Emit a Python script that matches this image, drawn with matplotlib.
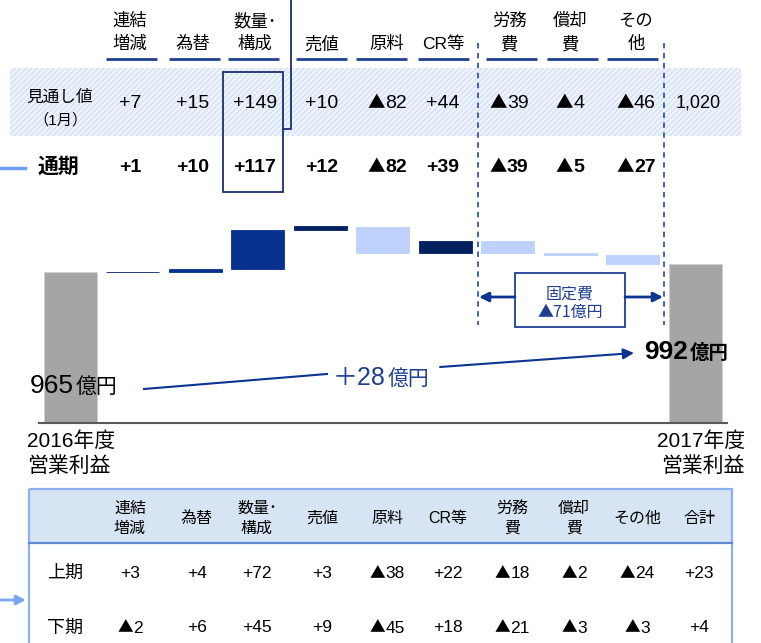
import matplotlib.pyplot as plt
from matplotlib.patches import Rectangle

plt.rcParams['font.family'] = ['Liberation Sans', 'Noto Sans CJK JP', 'DejaVu Sans']

# waterfall data (億円)
start_val = 965
end_val = 992
change_label = '＋28'
deltas = [1, 10, 117, 12, -82, 39, -39, -5, -27]
bar_colors = ['#002060', '#06318f', '#06318f', '#002060', '#bdd1fa',
              '#002060', '#bdd1fa', '#bdd1fa', '#bdd1fa']
axis_floor = 505

# upper table
top_headers = ['連結\n増減', '為替', '数量･\n構成', '売値', '原料', 'CR等', '労務\n費', '償却\n費', 'その\n他']
forecast = ['+7', '+15', '+149', '+10', '▲82', '+44', '▲39', '▲4', '▲46']
forecast_total = '1,020'
full_year = ['+1', '+10', '+117', '+12', '▲82', '+39', '▲39', '▲5', '▲27']

# lower table
low_headers = ['連結\n増減', '為替', '数量･\n構成', '売値', '原料', 'CR等', '労務\n費', '償却\n費', 'その他', '合計']
first_half = ['+3', '+4', '+72', '+3', '▲38', '+22', '▲18', '▲2', '▲24', '+23']
second_half = ['▲2', '+6', '+45', '+9', '▲45', '+18', '▲21', '▲3', '▲3', '+4']

navy = '#1f3f8f'

fig = plt.figure(figsize=(7.61, 6.43), dpi=100)
renderer = fig.canvas.get_renderer()

# waterfall axes
wax = fig.add_axes([0, (643 - 423.3) / 643, 1, 223.3 / 643])
wax.set_xlim(-70 / 62.5, (761 - 70) / 62.5)
wax.set_ylim(axis_floor, axis_floor + 223.3 / 0.328)
wax.axis('off')
w = 53 / 62.5
wax.bar([0, 10], [start_val - axis_floor, end_val - axis_floor], bottom=axis_floor,
        width=w, color='#a5a5a5', edgecolor='#d0d0d0', linewidth=0.6)
level = start_val
for i, d in enumerate(deltas):
    wax.bar(i + 1, d, bottom=level, width=w, color=bar_colors[i],
            edgecolor=bar_colors[i], linewidth=0.6)
    level += d

# overlay axes in pixel coords
ax = fig.add_axes([0, 0, 1, 1])
ax.set_xlim(0, 761)
ax.set_ylim(643, 0)
ax.axis('off')


def value(x, y, s, size, bold=False, color='black'):
    weight = 'bold' if bold else 'normal'
    if not s.startswith('▲'):
        ax.text(x, y, s, ha='center', va='center', fontsize=size, fontweight=weight, color=color)
        return
    em = size * 100 / 72
    base = y + 0.27 * em
    t1 = ax.text(0, base, '▲', ha='left', va='baseline', fontsize=size * 0.9, color=color,
                 family=['Noto Sans CJK JP'])
    t2 = ax.text(0, base, s[1:], ha='left', va='baseline', fontsize=size, fontweight=weight,
                 color=color)
    w1 = t1.get_window_extent(renderer).width
    w2 = t2.get_window_extent(renderer).width
    left = x - (w1 + w2) / 2
    t1.set_x(left)
    t2.set_x(left + w1)


# forecast band
ax.add_patch(Rectangle((10, 68), 731, 68, facecolor='#eef3fc', edgecolor='#d6e1f6',
                       hatch='//////', lw=0, zorder=0))

top_x = [130, 193, 255, 322, 387, 443, 509, 570, 636]
for x, h in zip(top_x, top_headers):
    lines = h.split('\n')
    if len(lines) == 2:
        ax.text(x, 21, lines[0], ha='center', va='center', fontsize=12.5)
        ax.text(x, 44, lines[1], ha='center', va='center', fontsize=12.5)
    else:
        ax.text(x, 44, lines[0], ha='center', va='center', fontsize=12.5)
ul = [(106, 157), (169, 220), (228, 279), (296, 347), (356, 407),
      (418, 469), (486, 537), (547, 598), (607, 658)]
for a, b in ul:
    ax.plot([a, b], [59, 59], color=navy, lw=2, solid_capstyle='butt')

ax.text(60, 97, '見通し値', ha='center', va='center', fontsize=12)
ax.text(60, 120, '（1月）', ha='center', va='center', fontsize=11)
ax.text(58, 167, '通期', ha='center', va='center', fontsize=15, fontweight='bold')
ax.plot([0, 25], [168, 168], color='#6f9ff5', lw=2.5)

for x, v in zip(top_x, forecast):
    value(x, 103, v, 14)
ax.text(698, 103, forecast_total, ha='center', va='center', fontsize=13)
for x, v in zip(top_x, full_year):
    value(x, 167, v, 14, bold=True)

# highlight box on volume column
ax.add_patch(Rectangle((223, 72), 60, 120, facecolor='none', edgecolor='#1c2f6e', lw=1.3))
ax.plot([283, 291, 291], [129, 129, 0], color='#1c2f6e', lw=1.3)

# fixed cost brackets
for x in [478, 664]:
    ax.plot([x, x], [43, 325], color='#3056ad', lw=1.3, ls=(0, (3, 2.5)))
ax.add_patch(Rectangle((515, 273), 110, 54, facecolor='white', edgecolor=navy, lw=1.3, zorder=3))
ax.text(570, 294, '固定費', ha='center', va='center', fontsize=11.5, color=navy, zorder=4)
ax.text(570, 312, '▲71億円', ha='center', va='center', fontsize=11.5, color=navy, zorder=4,
        family=['Noto Sans CJK JP'])
arrow = dict(arrowstyle='-|>', color='#0b3590', lw=2, mutation_scale=14, shrinkA=0, shrinkB=0)
ax.annotate('', xy=(479, 297), xytext=(515, 297), arrowprops=arrow)
ax.annotate('', xy=(663, 297), xytext=(625, 297), arrowprops=arrow)

# baseline
ax.plot([39, 727], [423.3, 423.3], color='#595959', lw=1.5)

# totals
ax.text(30, 393, str(start_val), ha='left', va='baseline', fontsize=19)
ax.text(76, 393, '億円', ha='left', va='baseline', fontsize=15)
ax.text(644, 359, str(end_val), ha='left', va='baseline', fontsize=19, fontweight='bold')
ax.text(690, 359, '億円', ha='left', va='baseline', fontsize=14, fontweight='bold')
ax.text(333, 385, change_label, ha='left', va='baseline', fontsize=18, color=navy)
ax.text(388, 385, '億円', ha='left', va='baseline', fontsize=15, color=navy)
ax.plot([144, 327], [389, 374], color='#0b3590', lw=1.5)
ax.annotate('', xy=(634, 353), xytext=(440, 367),
            arrowprops=dict(arrowstyle='-|>', color='#0b3590', lw=1.5, mutation_scale=16,
                            shrinkA=0, shrinkB=0))

ax.text(27, 441, '2016年度', ha='left', va='center', fontsize=15)
ax.text(27, 466, '営業利益', ha='left', va='center', fontsize=15)
ax.text(745, 441, '2017年度', ha='right', va='center', fontsize=15)
ax.text(745, 466, '営業利益', ha='right', va='center', fontsize=15)

# lower table
ax.add_patch(Rectangle((29, 489), 703, 54, facecolor='#d6e4f3', edgecolor='none'))
ax.add_patch(Rectangle((29, 489), 703, 200, facecolor='none', edgecolor='#8db0ef', lw=1.6))
ax.plot([29, 732], [543, 543], color='#5a8ad0', lw=1.6)
low_x = [130, 197, 257, 322, 387, 448, 512, 574, 637, 699]
for x, h in zip(low_x, low_headers):
    lines = h.split('\n')
    if len(lines) == 2:
        ax.text(x, 508, lines[0], ha='center', va='center', fontsize=11.5)
        ax.text(x, 528, lines[1], ha='center', va='center', fontsize=11.5)
    else:
        ax.text(x, 518, lines[0], ha='center', va='center', fontsize=11.5)
ax.text(65, 573, '上期', ha='center', va='center', fontsize=13)
ax.text(65, 628, '下期', ha='center', va='center', fontsize=13)
for x, v in zip(low_x, first_half):
    value(x, 573, v, 12.5)
for x, v in zip(low_x, second_half):
    value(x, 628, v, 12.5)
ax.annotate('', xy=(26, 600), xytext=(0, 600),
            arrowprops=dict(arrowstyle='-|>', color='#7aa5f0', lw=2, mutation_scale=14,
                            shrinkA=0, shrinkB=0))

fig.savefig('out.png', dpi=100)
